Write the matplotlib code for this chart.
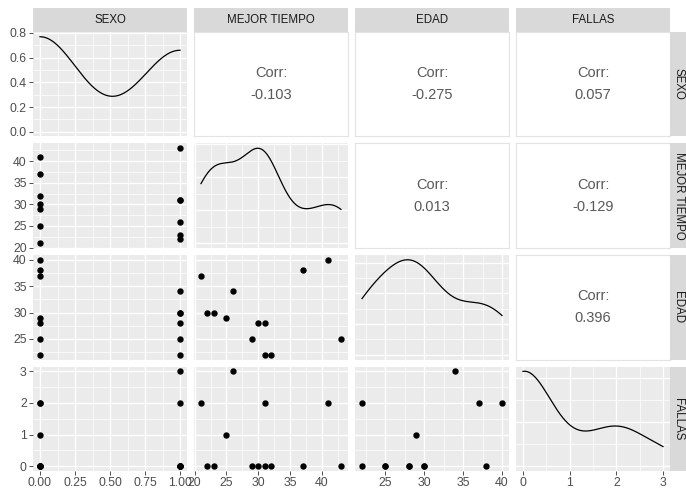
import numpy as np
import matplotlib
matplotlib.use("Agg")
import matplotlib.pyplot as plt

# ---- data (one record per person) ----
variables = ["SEXO", "MEJOR TIEMPO", "EDAD", "FALLAS"]
sexo =   [0, 1, 1, 0, 1, 0, 0, 1, 1, 0, 0, 0, 1]
tiempo = [21, 22, 23, 25, 26, 29, 30, 31, 31, 32, 37, 41, 43]
edad =   [37, 30, 30, 29, 34, 25, 28, 22, 28, 22, 38, 40, 25]
fallas = [2, 0, 0, 1, 3, 0, 0, 2, 0, 0, 0, 2, 0]
corr_labels = {(0, 1): "-0.103", (0, 2): "-0.275", (0, 3): "0.057",
               (1, 2): "0.013", (1, 3): "-0.129", (2, 3): "0.396"}
x_ticks = [[0, 0.25, 0.5, 0.75, 1.0], [20, 25, 30, 35, 40], [25, 30, 35, 40], [0, 1, 2, 3]]
x_ticklabels = [["0.00", "0.25", "0.50", "0.75", "1.00"], ["20", "25", "30", "35", "40"],
                ["25", "30", "35", "40"], ["0", "1", "2", "3"]]
dens_ticks = [0.0, 0.2, 0.4, 0.6, 0.8]
dens_ticklabels = ["0.0", "0.2", "0.4", "0.6", "0.8"]

data = [np.array(sexo, float), np.array(tiempo, float), np.array(edad, float), np.array(fallas, float)]

plt.rcParams['font.family'] = ['Liberation Sans', 'DejaVu Sans']

W, H = 686, 490
fig = plt.figure(figsize=(W / 100, H / 100), dpi=100)

lefts = [33, 194, 355, 516]
pw = 154
tops = [32, 143.5, 255, 366.5]
ph = 104.5

BG = "#EBEBEB"
STRIP = "#D9D9D9"
TXT = "#4D4D4D"


def ax_at(x, y, w, h):
    return fig.add_axes([x / W, 1 - (y + h) / H, w / W, h / H])


def bw_nrd0(x):
    sd = np.std(x, ddof=1)
    iqr = np.subtract(*np.percentile(x, [75, 25]))
    lo = min(sd, iqr / 1.34)
    return 0.9 * lo * len(x) ** (-0.2)


def kde(x):
    h = bw_nrd0(x)
    g = np.linspace(x.min(), x.max(), 512)
    d = np.exp(-0.5 * ((g[:, None] - x[None, :]) / h) ** 2).sum(1) / (len(x) * h * np.sqrt(2 * np.pi))
    return g, d


def rng(v):
    lo, hi = min(v), max(v)
    e = (hi - lo) * 0.05
    return lo - e, hi + e


def minors(ticks, lim):
    step = ticks[1] - ticks[0]
    m = np.arange(ticks[0] - step / 2, lim[1] + step, step)
    return [t for t in m if lim[0] <= t <= lim[1]]


def majors_in(ticks, lim):
    step = ticks[1] - ticks[0]
    m = np.arange(ticks[0] - 3 * step, ticks[-1] + 3 * step + 1e-9, step)
    return [t for t in m if lim[0] <= t <= lim[1]]


def grid(ax, xt, yt, xl, yl):
    for t in minors(xt, xl):
        ax.axvline(t, color="white", lw=0.5, zorder=0.5)
    for t in minors(yt, yl):
        ax.axhline(t, color="white", lw=0.5, zorder=0.5)
    for t in majors_in(xt, xl):
        ax.axvline(t, color="white", lw=0.95, zorder=0.6)
    for t in majors_in(yt, yl):
        ax.axhline(t, color="white", lw=0.95, zorder=0.6)


y_ticks_rows = [dens_ticks, x_ticks[1], x_ticks[2], x_ticks[3]]
y_ticklabels_rows = [dens_ticklabels, x_ticklabels[1], x_ticklabels[2], x_ticklabels[3]]

for i in range(4):
    for j in range(4):
        ax = ax_at(lefts[j], tops[i], pw, ph)
        xl = rng(data[j])
        ax.set_xlim(*xl)
        for s in ax.spines.values():
            s.set_visible(False)
        ax.tick_params(length=0, labelleft=False, labelbottom=False)
        ax.set_xticks([])
        ax.set_yticks([])
        if i == j:
            g, d = kde(data[j])
            yl = (-0.05 * d.max(), d.max() * 1.05)
            ax.set_ylim(*yl)
            ax.set_facecolor(BG)
            yt = list(np.arange(0, d.max() * 1.2, 0.2 if d.max() > 0.3 else (0.02 if d.max() > 0.03 else 0.01)))
            if d.max() > 0.3:
                yt = dens_ticks
            grid(ax, x_ticks[j], yt, xl, yl)
            ax.plot(g, d, color="black", lw=0.9, zorder=3)
        elif i > j:
            yl = rng(data[i])
            ax.set_ylim(*yl)
            ax.set_facecolor(BG)
            grid(ax, x_ticks[j], x_ticks[i], xl, yl)
            ax.scatter(data[j], data[i], s=21, color="black", zorder=3, linewidths=0)
        else:
            ax.set_facecolor("white")
            ax.set_ylim(0, 1)
            for s in ax.spines.values():
                s.set_visible(True)
                s.set_color("#E3E3E3")
                s.set_linewidth(0.8)
            ax.text(0.5, 0.5, "Corr:\n" + corr_labels[(i, j)], ha="center", va="center",
                    transform=ax.transAxes, fontsize=10.5, color="#595959", linespacing=1.7)
        if j == 0:
            ax.set_yticks(y_ticks_rows[i])
            ax.set_yticklabels(y_ticklabels_rows[i])
            ax.tick_params(axis="y", left=True, labelleft=True, length=3, width=0.6,
                           color="#333333", labelcolor=TXT, labelsize=8.8, pad=1.5)
        if i == 3:
            ax.set_xticks(x_ticks[j])
            ax.set_xticklabels(x_ticklabels[j])
            ax.tick_params(axis="x", bottom=True, labelbottom=True, length=3, width=0.6,
                           color="#333333", labelcolor=TXT, labelsize=8.8, pad=1.5)

# top strips
for j in range(4):
    sa = ax_at(lefts[j], 8, pw, 24)
    sa.set_facecolor(STRIP)
    sa.set_xticks([]); sa.set_yticks([])
    for s in sa.spines.values():
        s.set_visible(False)
    sa.text(0.5, 0.5, variables[j], ha="center", va="center", fontsize=8.3,
            color="#1A1A1A", transform=sa.transAxes)

# right strips
for i in range(4):
    sa = ax_at(670, tops[i], 17, ph)
    sa.set_facecolor(STRIP)
    sa.set_xticks([]); sa.set_yticks([])
    for s in sa.spines.values():
        s.set_visible(False)
    sa.text(0.5, 0.5, variables[i], ha="center", va="center", fontsize=8.3, rotation=270,
            color="#1A1A1A", transform=sa.transAxes)

fig.savefig("out.png", dpi=100, facecolor="white")
